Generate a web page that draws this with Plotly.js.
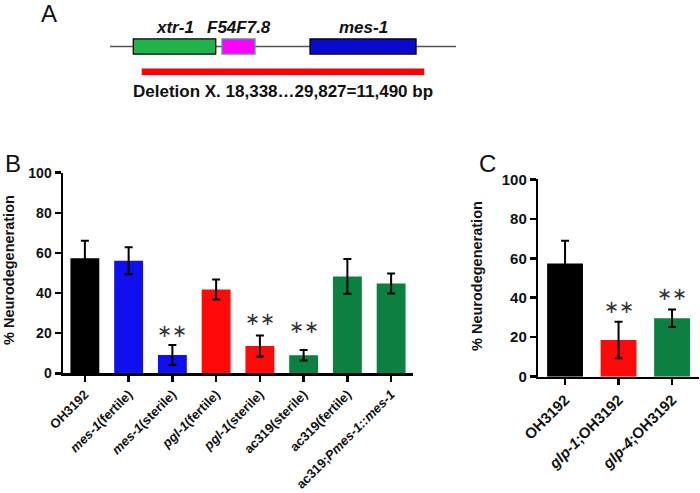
<!DOCTYPE html>
<html>
<head>
<meta charset="utf-8">
<script src="https://cdn.plot.ly/plotly-3.0.1.min.js"></script>
<style>html,body{margin:0;padding:0;background:#fff;}#chart{width:700px;height:493px;}</style>
</head>
<body>
<div id="chart"></div>
<script>
// ---------- Panel A: genomic map (bp coordinates) ----------
const geneNames = ['xtr-1', 'F54F7.8', 'mes-1'];
const geneStart = [17997, 21603, 25181];
const geneEnd = [21347, 22945, 29491];
const trackSpan = [17049, 31116];
const deletionSpan = [18338, 29827];
const deletionLabel = 'Deletion X. 18,338\u202629,827=11,490 bp';

// ---------- Panel B ----------
const strainsB = ['OH3192', 'mes-1(fertile)', 'mes-1(sterile)', 'pgl-1(fertile)', 'pgl-1(sterile)', 'ac319(sterile)', 'ac319(fertile)', 'ac319;Pmes-1::mes-1'];
const tickLabelsB = ['OH3192', '<i>mes-1</i>(fertile)', '<i>mes-1</i>(sterile)', '<i>pgl-1</i>(fertile)', '<i>pgl-1</i>(sterile)', 'ac319(sterile)', 'ac319(fertile)', 'ac319;<i>Pmes-1::mes-1</i>'];
const valuesB = [57.3, 56.1, 9.1, 41.8, 13.6, 9.0, 48.3, 44.8];
const errorsB = [8.8, 6.7, 5.0, 5.0, 5.2, 2.6, 8.7, 5.0];
const sigStrainsB = ['mes-1(sterile)', 'pgl-1(sterile)', 'ac319(sterile)'];
const sigYB = [21.1, 27.4, 23.2];

// ---------- Panel C ----------
const strainsC = ['OH3192', 'glp-1;OH3192', 'glp-4;OH3192'];
const tickLabelsC = ['OH3192', '<i>glp-1</i>;OH3192', '<i>glp-4</i>;OH3192'];
const valuesC = [57.4, 18.6, 29.6];
const errorsC = [11.5, 9.3, 4.4];
const sigStrainsC = ['glp-1;OH3192', 'glp-4;OH3192'];
const sigYC = [35.8, 42.2];

const yTicks = [0, 20, 40, 60, 80, 100];

// ---------- styles ----------
const FONT = 'Liberation Sans, Arial, sans-serif';
const BLACK = '#000000', BLUE = '#1010ee', RED = '#ff0a0a', GREEN = '#0b8040';
const colorsB = [BLACK, BLUE, BLUE, RED, RED, GREEN, GREEN, GREEN];
const colorsC = [BLACK, RED, GREEN];
const geneFill = ['#22b24c', '#ff00ff', '#0a0acc'];
const geneLine = ['#000000', '#3aa59a', '#000000'];

const W = 700, H = 493;
const px = v => v / W;
const py = v => 1 - v / H;
const bold = s => '<b>' + s + '</b>';

const traces = [];

// Panel A track line
traces.push({
  type: 'scatter', mode: 'lines', xaxis: 'x3', yaxis: 'y3',
  x: trackSpan, y: [1, 1], line: {color: '#555555', width: 1.3},
  hoverinfo: 'skip', showlegend: false
});
// Deletion bar
traces.push({
  type: 'scatter', mode: 'lines', xaxis: 'x3', yaxis: 'y3',
  x: deletionSpan, y: [0, 0], line: {color: '#ff0000', width: 6.5},
  hoverinfo: 'skip', showlegend: false
});

// Panel B bars
traces.push({
  type: 'bar', xaxis: 'x', yaxis: 'y',
  x: strainsB, y: valuesB, width: 0.66,
  marker: {color: colorsB, line: {width: 0}},
  error_y: {type: 'data', array: errorsB, visible: true, color: '#000', thickness: 2, width: 4},
  showlegend: false
});
// Panel C bars
traces.push({
  type: 'bar', xaxis: 'x2', yaxis: 'y2',
  x: strainsC, y: valuesC, width: 0.67,
  marker: {color: colorsC, line: {width: 0}},
  error_y: {type: 'data', array: errorsC, visible: true, color: '#000', thickness: 2, width: 4},
  showlegend: false
});

const shapes = geneNames.map((g, i) => ({
  type: 'rect', xref: 'x3', yref: 'y3', layer: 'above',
  x0: geneStart[i], x1: geneEnd[i], y0: 0.7, y1: 1.3,
  fillcolor: geneFill[i], line: {color: geneLine[i], width: 1.3}
}));

const annotations = [];
geneNames.forEach((g, i) => {
  annotations.push({
    xref: 'x3', yref: 'y3', x: (geneStart[i] + geneEnd[i]) / 2, y: 1.74,
    xanchor: 'center', yanchor: 'middle',
    text: '<b><i>' + g + '</i></b>', showarrow: false,
    font: {family: FONT, size: 17, color: '#111'}
  });
});
annotations.push({
  xref: 'x3', yref: 'y3', x: (deletionSpan[0] + deletionSpan[1]) / 2, y: -0.8,
  xanchor: 'center', yanchor: 'middle',
  text: bold(deletionLabel), showarrow: false,
  font: {family: FONT, size: 17, color: '#111'}
});
// significance marks
sigStrainsB.forEach((s, i) => annotations.push({
  xref: 'x', yref: 'y', x: s, y: sigYB[i], xanchor: 'center', yanchor: 'middle',
  text: '\u2217\u2217', showarrow: false,
  font: {family: 'DejaVu Sans, sans-serif', size: 18, color: '#333'}
}));
sigStrainsC.forEach((s, i) => annotations.push({
  xref: 'x2', yref: 'y2', x: s, y: sigYC[i], xanchor: 'center', yanchor: 'middle',
  text: '\u2217\u2217', showarrow: false,
  font: {family: 'DejaVu Sans, sans-serif', size: 18, color: '#333'}
}));
// axis titles
annotations.push({
  xref: 'paper', yref: 'paper', x: px(9), y: py(270), textangle: -90,
  xanchor: 'center', yanchor: 'middle',
  text: bold('% Neurodegeneration'), showarrow: false,
  font: {family: FONT, size: 14.5, color: '#111'}
});
annotations.push({
  xref: 'paper', yref: 'paper', x: px(477), y: py(276), textangle: -90,
  xanchor: 'center', yanchor: 'middle',
  text: bold('% Neurodegeneration'), showarrow: false,
  font: {family: FONT, size: 14.5, color: '#111'}
});
// panel letters
[['A', 49, 13], ['B', 13, 163], ['C', 487, 163]].forEach(([t, x, y]) => annotations.push({
  xref: 'paper', yref: 'paper', x: px(x), y: py(y), xanchor: 'center', yanchor: 'middle',
  text: t, showarrow: false,
  font: {family: FONT, size: 24, color: '#111'}
}));

const yAxisCommon = {
  range: [0, 100], tickvals: yTicks, ticktext: yTicks.map(v => bold(String(v))),
  showgrid: false, zeroline: false, showline: true, linecolor: '#000', linewidth: 2.5,
  ticks: 'outside', ticklen: 6, tickwidth: 2.5, tickcolor: '#000',
  tickfont: {family: FONT, size: 14, color: '#111'},
  fixedrange: true
};
const xAxisCommon = {
  type: 'category', showgrid: false, zeroline: false, showline: true, linecolor: '#000', linewidth: 2.5,
  ticks: 'outside', ticklen: 6, tickwidth: 2.5, tickcolor: '#000', tickangle: -45,
  tickfont: {family: FONT, size: 13, color: '#111'},
  fixedrange: true
};

const layout = {
  width: W, height: H,
  margin: {l: 0, r: 0, t: 0, b: 0},
  paper_bgcolor: '#fff', plot_bgcolor: 'rgba(0,0,0,0)',
  showlegend: false,
  xaxis: Object.assign({}, xAxisCommon, {
    domain: [px(63), px(413)], range: [-0.5, 7.5], anchor: 'y',
    categoryorder: 'array', categoryarray: strainsB, tickvals: strainsB, ticktext: tickLabelsB.map(bold)
  }),
  yaxis: Object.assign({}, yAxisCommon, {domain: [py(373.3), py(172.7)], anchor: 'x'}),
  xaxis2: Object.assign({}, xAxisCommon, {
    domain: [px(538.3), px(698.8)], range: [-0.5, 2.5], anchor: 'y2',
    categoryorder: 'array', categoryarray: strainsC, tickvals: strainsC, ticktext: tickLabelsC.map(bold),
    tickfont: {family: FONT, size: 15, color: '#111'}
  }),
  yaxis2: Object.assign({}, yAxisCommon, {domain: [py(376.7), py(179.3)], anchor: 'x2',
    tickfont: {family: FONT, size: 15, color: '#111'}}),
  xaxis3: {domain: [0, 1], range: [12577, 41037], visible: false, anchor: 'y3', fixedrange: true},
  yaxis3: {domain: [py(110), 1], range: [-1.52, 2.845], visible: false, anchor: 'x3', fixedrange: true},
  shapes: shapes,
  annotations: annotations
};

Plotly.newPlot('chart', traces, layout, {displayModeBar: false, staticPlot: true});
</script>
</body>
</html>
